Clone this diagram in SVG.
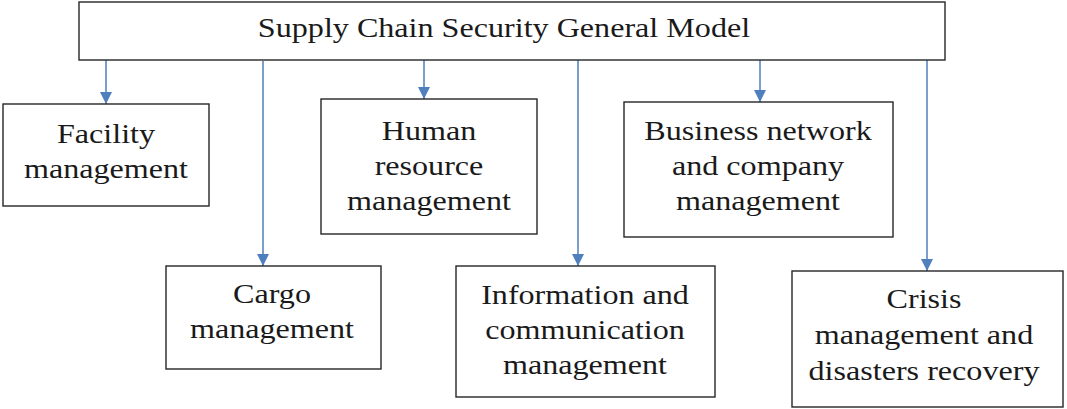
<svg xmlns="http://www.w3.org/2000/svg" width="1067" height="409" viewBox="0 0 1067 409">
<style>
.box{fill:#fff;stroke:#262626;stroke-width:1.4}
.t{font-family:"Liberation Serif","Times New Roman",serif;font-size:27px;fill:#1a1a1a;text-anchor:middle}
.c{stroke:#4f7fbd;stroke-width:1.5;fill:none;marker-end:url(#ah)}
</style>
<defs>
<marker id="ah" markerUnits="userSpaceOnUse" viewBox="0 0 12 12" refX="12" refY="6" markerWidth="12" markerHeight="12" orient="auto">
<path d="M0,0 L12,6 L0,12 z" fill="#4f7fbd"/>
</marker>
</defs>
<rect width="1067" height="409" fill="#fff"/>
<g id="connectors">
<line class="c" x1="106" y1="60" x2="106" y2="104"/>
<line class="c" x1="263" y1="61" x2="263" y2="266"/>
<line class="c" x1="424" y1="60" x2="424" y2="99"/>
<line class="c" x1="578" y1="60" x2="578" y2="266"/>
<line class="c" x1="760" y1="60" x2="760" y2="102"/>
<line class="c" x1="927" y1="60" x2="927" y2="271"/>
</g>
<g id="root">
<rect class="box" x="79" y="2" width="866" height="58"/>
<text class="t" transform="translate(504,37) scale(1.19,1)">Supply Chain Security General Model</text>
</g>
<g id="facility">
<rect class="box" x="3" y="104" width="206" height="102"/>
<text class="t" transform="translate(106,143) scale(1.19,1)"><tspan x="0">Facility</tspan><tspan x="0" dy="35">management</tspan></text>
</g>
<g id="cargo">
<rect class="box" x="166" y="266" width="215" height="103"/>
<text class="t" transform="translate(272,303) scale(1.19,1)"><tspan x="0">Cargo</tspan><tspan x="0" dy="35">management</tspan></text>
</g>
<g id="human">
<rect class="box" x="321" y="99" width="216" height="135"/>
<text class="t" transform="translate(429,140) scale(1.19,1)"><tspan x="0">Human</tspan><tspan x="0" dy="35">resource</tspan><tspan x="0" dy="35">management</tspan></text>
</g>
<g id="information">
<rect class="box" x="456" y="266" width="259" height="131"/>
<text class="t" transform="translate(585,304) scale(1.19,1)"><tspan x="0">Information and</tspan><tspan x="0" dy="35">communication</tspan><tspan x="0" dy="35">management</tspan></text>
</g>
<g id="business">
<rect class="box" x="624" y="102" width="269" height="135"/>
<text class="t" transform="translate(758,140) scale(1.19,1)"><tspan x="0">Business network</tspan><tspan x="0" dy="35">and company</tspan><tspan x="0" dy="35">management</tspan></text>
</g>
<g id="crisis">
<rect class="box" x="792" y="271" width="271" height="136"/>
<text class="t" transform="translate(924,308) scale(1.19,1)"><tspan x="0">Crisis</tspan><tspan x="0" dy="36">management and</tspan><tspan x="0" dy="36">disasters recovery</tspan></text>
</g>
</svg>
